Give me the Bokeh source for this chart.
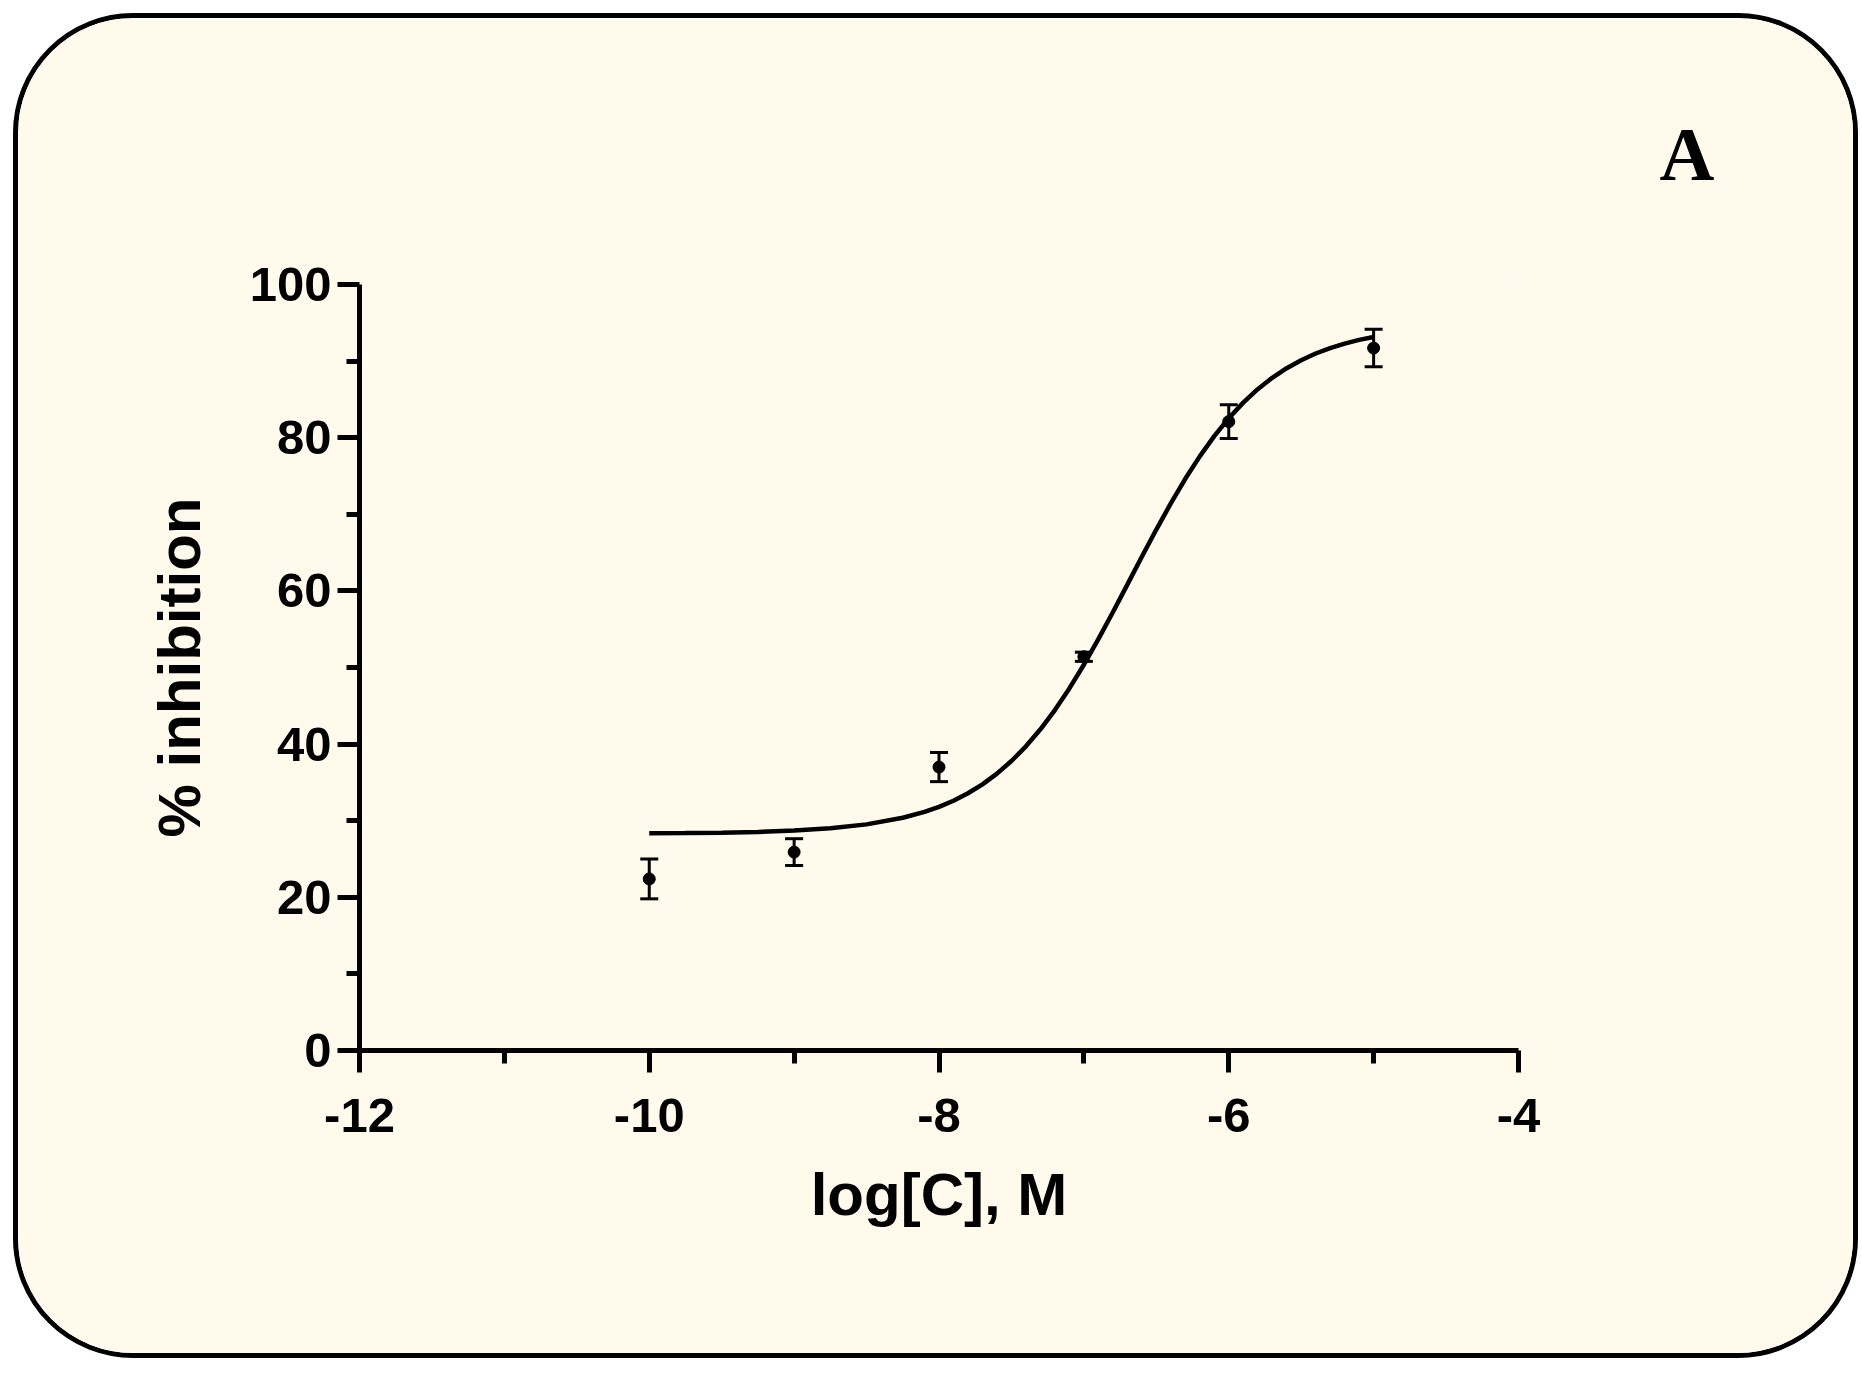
from bokeh.plotting import figure
from bokeh.models import Range1d, FixedTicker, Whisker, TeeHead, ColumnDataSource
from bokeh.embed import file_html
from bokeh.resources import INLINE

# Measured data (log concentration, % inhibition, SEM)
log_conc = [-10, -9, -8, -7, -6, -5]
inhibition = [22.4, 25.9, 37.0, 51.4, 82.1, 91.7]
sem = [2.6, 1.75, 1.9, 0.6, 2.2, 2.45]

# Fitted curve
curve_x = [-10, -9.75, -9.5, -9.25, -9, -8.75, -8.5, -8.25, -8.1, -8.0,
           -7.9, -7.8, -7.7, -7.6, -7.5, -7.4, -7.3, -7.2, -7.1, -7.0,
           -6.9, -6.8, -6.7, -6.6, -6.5, -6.4, -6.3, -6.2, -6.1, -6.0,
           -5.9, -5.8, -5.7, -5.6, -5.5, -5.4, -5.3, -5.2, -5.1, -5.0]
curve_y = [28.35, 28.38, 28.44, 28.54, 28.71, 29.01, 29.52, 30.38, 31.15, 31.81,
           32.61, 33.58, 34.75, 36.14, 37.79, 39.71, 41.93, 44.44, 47.27, 50.36,
           53.70, 57.21, 60.82, 64.45, 68.01, 71.42, 74.63, 77.56, 80.20, 82.54,
           84.58, 86.33, 87.82, 89.07, 90.12, 90.99, 91.70, 92.29, 92.77, 93.15]

x_major = [-12, -10, -8, -6, -4]
x_minor = [-11, -9, -7, -5]
y_major = [0, 20, 40, 60, 80, 100]
y_minor = [10, 30, 50, 70, 90]

panel_label = "A"
x_title = "log[C], M"
y_title = "% inhibition"

BG = "#FFFAEB"
W, H = 1835, 1335

p = figure(width=W, height=H, output_backend="svg", toolbar_location=None,
           x_range=Range1d(-12, -4), y_range=Range1d(0, 100),
           min_border_left=341, min_border_right=345,
           min_border_top=266, min_border_bottom=313)
p.background_fill_color = BG
p.border_fill_color = BG
p.outline_line_color = None
p.grid.visible = False
p.styles = {"margin": "13px 0px 0px 13px", "border": "5px solid black",
            "border-radius": "120px", "overflow": "hidden",
            "box-sizing": "content-box"}

for ax, maj, mnr in ((p.xaxis[0], x_major, x_minor), (p.yaxis[0], y_major, y_minor)):
    ax.ticker = FixedTicker(ticks=maj, minor_ticks=mnr)
    ax.major_label_overrides = {t: str(t) for t in maj}
    ax.axis_line_width = 5
    ax.axis_line_color = "black"
    ax.major_tick_line_width = 5
    ax.minor_tick_line_width = 5
    ax.major_tick_out = 22
    ax.major_tick_in = 0
    ax.minor_tick_out = 13
    ax.minor_tick_in = 0
    ax.major_label_text_font = "Liberation Sans"
    ax.major_label_text_font_style = "bold"
    ax.major_label_text_font_size = "49px"
    ax.major_label_text_color = "black"
    ax.axis_label_text_font = "Liberation Sans"
    ax.axis_label_text_font_style = "bold"
    ax.axis_label_text_font_size = "60px"
    ax.axis_label_text_color = "black"

p.xaxis.axis_label = x_title
p.yaxis.axis_label = y_title
p.xaxis.major_label_standoff = 26
p.yaxis.major_label_standoff = 6
p.xaxis.axis_label_standoff = 26
p.yaxis.axis_label_standoff = 34

p.title.text = panel_label
p.title.align = "right"
p.title.offset = -196
p.title.standoff = 178
p.title.text_font = "Liberation Serif"
p.title.text_font_style = "bold"
p.title.text_font_size = "76px"
p.title.text_color = "black"

p.line(curve_x, curve_y, line_color="black", line_width=4.5)

src = ColumnDataSource(dict(x=log_conc, y=inhibition,
                            upper=[v + e for v, e in zip(inhibition, sem)],
                            lower=[v - e for v, e in zip(inhibition, sem)]))
wh = Whisker(base="x", upper="upper", lower="lower", source=src,
             line_color="black", line_width=3,
             upper_head=TeeHead(size=18, line_width=3, line_color="black"),
             lower_head=TeeHead(size=18, line_width=3, line_color="black"))
p.add_layout(wh)
p.scatter("x", "y", source=src, size=12, color="black")

open("out.html", "w").write(file_html(p, INLINE))
